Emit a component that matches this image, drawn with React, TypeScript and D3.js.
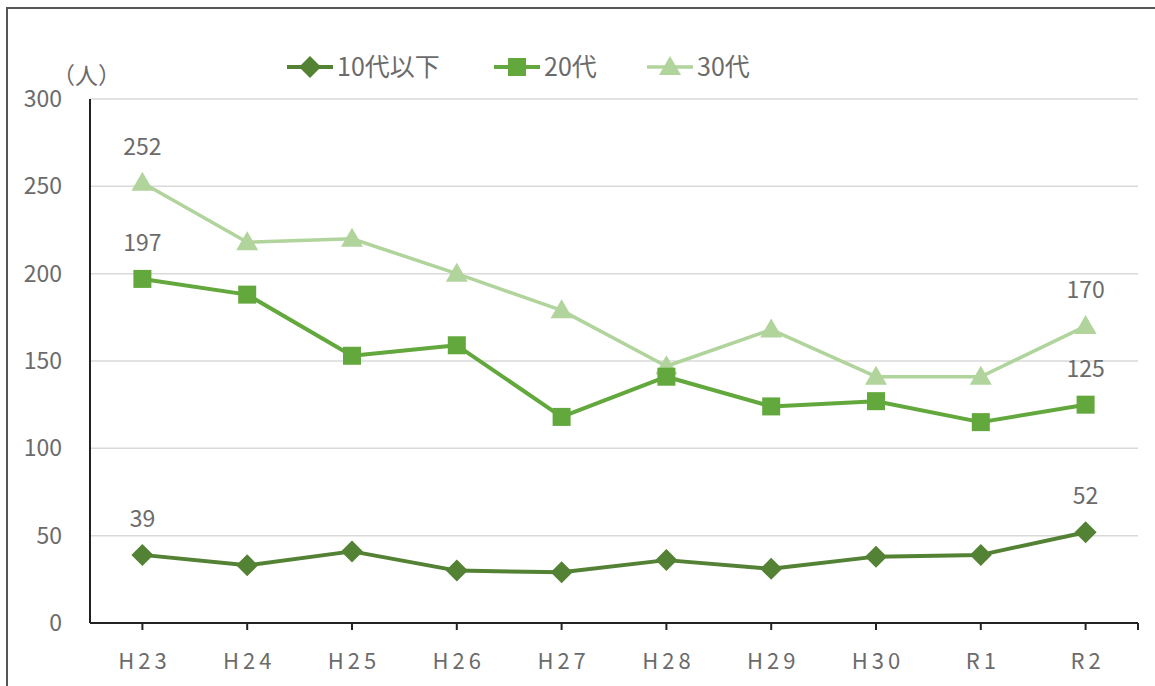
import React, { useRef, useEffect } from 'react';
import * as d3 from 'd3';

const categories = ['H23', 'H24', 'H25', 'H26', 'H27', 'H28', 'H29', 'H30', 'R1', 'R2'];
const teens = [39, 33, 41, 30, 29, 36, 31, 38, 39, 52];
const twenties = [197, 188, 153, 159, 118, 141, 124, 127, 115, 125];
const thirties = [252, 218, 220, 200, 179, 147, 168, 141, 141, 170];
const yTicks = [0, 50, 100, 150, 200, 250, 300];

const series = [
  { name: '10代以下', values: teens, color: '#548235', marker: 'diamond', width: 4 },
  { name: '20代', values: twenties, color: '#62a83c', marker: 'square', width: 4 },
  { name: '30代', values: thirties, color: '#b0d49b', marker: 'triangle', width: 3.5 },
];

const W = 1155;
const H = 686;
const font = '"Noto Sans CJK JP", "Noto Sans", sans-serif';
const textColor = '#6b6b6b';

const drawMarker = (g, type, x, y, color) => {
  if (type === 'diamond') {
    g.append('path')
      .attr('d', `M${x},${y - 11}L${x + 11},${y}L${x},${y + 11}L${x - 11},${y}Z`)
      .attr('fill', color);
  } else if (type === 'square') {
    g.append('rect')
      .attr('x', x - 9).attr('y', y - 9)
      .attr('width', 18).attr('height', 18)
      .attr('fill', color);
  } else {
    g.append('path')
      .attr('d', `M${x},${y - 11}L${x + 11},${y + 8}L${x - 11},${y + 8}Z`)
      .attr('fill', color);
  }
};

const App = () => {
  const svgRef = useRef(null);

  useEffect(() => {
    const svg = d3.select(svgRef.current);
    svg.selectAll('*').remove();

    const margin = { left: 90, right: 17, top: 99, bottom: 63 };
    const innerW = W - margin.left - margin.right;
    const innerH = H - margin.top - margin.bottom;

    // outer frame
    svg.append('rect')
      .attr('x', 7).attr('y', 8)
      .attr('width', W + 20).attr('height', H + 20)
      .attr('fill', '#fff')
      .attr('stroke', '#555').attr('stroke-width', 2);

    const g = svg.append('g').attr('transform', `translate(${margin.left},${margin.top})`);

    const x = d3.scaleBand().domain(categories).range([0, innerW]);
    const y = d3.scaleLinear().domain([0, 300]).range([innerH, 0]);
    const cx = (c) => x(c) + x.bandwidth() / 2;

    // gridlines
    g.selectAll('.grid')
      .data(yTicks.filter(t => t > 0))
      .enter().append('line')
      .attr('x1', 0).attr('x2', innerW)
      .attr('y1', d => y(d)).attr('y2', d => y(d))
      .attr('stroke', '#d9d9d9').attr('stroke-width', 1.5);

    // y tick labels
    g.selectAll('.ylab')
      .data(yTicks)
      .enter().append('text')
      .attr('x', -28).attr('y', d => y(d) + 8)
      .attr('text-anchor', 'end')
      .attr('font-family', font).attr('font-size', 23)
      .attr('fill', textColor)
      .text(d => d);

    g.append('text')
      .attr('x', -38).attr('y', -15)
      .attr('font-family', font).attr('font-size', 23)
      .attr('fill', textColor)
      .text('（人）');

    // axes
    g.append('line')
      .attr('x1', 0).attr('x2', 0).attr('y1', 0).attr('y2', innerH)
      .attr('stroke', '#222').attr('stroke-width', 2);
    g.append('line')
      .attr('x1', 0).attr('x2', innerW).attr('y1', innerH).attr('y2', innerH)
      .attr('stroke', '#222').attr('stroke-width', 2);
    g.selectAll('.xtick')
      .data([...categories.map(cx), innerW])
      .enter().append('line')
      .attr('x1', d => d).attr('x2', d => d)
      .attr('y1', innerH).attr('y2', innerH + 7)
      .attr('stroke', '#222').attr('stroke-width', 2);

    g.selectAll('.xlab')
      .data(categories)
      .enter().append('text')
      .attr('x', d => cx(d) + 2).attr('y', innerH + 46)
      .attr('text-anchor', 'middle')
      .attr('font-family', font).attr('font-size', 22)
      .attr('letter-spacing', 4)
      .attr('fill', textColor)
      .text(d => d);

    // series
    const line = d3.line().x((d, i) => cx(categories[i])).y(d => y(d));
    series.slice().reverse().forEach(s => {
      g.append('path')
        .datum(s.values)
        .attr('d', line)
        .attr('fill', 'none')
        .attr('stroke', s.color)
        .attr('stroke-width', s.width)
        .attr('stroke-linejoin', 'round');
      s.values.forEach((v, i) => drawMarker(g, s.marker, cx(categories[i]), y(v), s.color));
      // data labels for first and last points
      [0, s.values.length - 1].forEach(i => {
        g.append('text')
          .attr('x', cx(categories[i])).attr('y', y(s.values[i]) - 28)
          .attr('text-anchor', 'middle')
          .attr('font-family', font).attr('font-size', 23)
          .attr('fill', textColor)
          .text(s.values[i]);
      });
    });

    // legend
    const legendX = [287, 494, 647];
    series.forEach((s, i) => {
      const lg = svg.append('g').attr('transform', `translate(${legendX[i]},67)`);
      lg.append('line')
        .attr('x1', 0).attr('x2', 46).attr('y1', 0).attr('y2', 0)
        .attr('stroke', s.color).attr('stroke-width', s.width);
      drawMarker(lg, s.marker, 23, 0, s.color);
      lg.append('text')
        .attr('x', 50).attr('y', 9)
        .attr('font-family', font).attr('font-size', 25)
        .attr('fill', textColor)
        .text(s.name);
    });
  }, []);

  return (
    <div style={{ position: 'absolute', left: 0, top: 0 }}>
      <svg ref={svgRef} width={W} height={H} style={{ display: 'block' }}></svg>
    </div>
  );
};

export default App;
